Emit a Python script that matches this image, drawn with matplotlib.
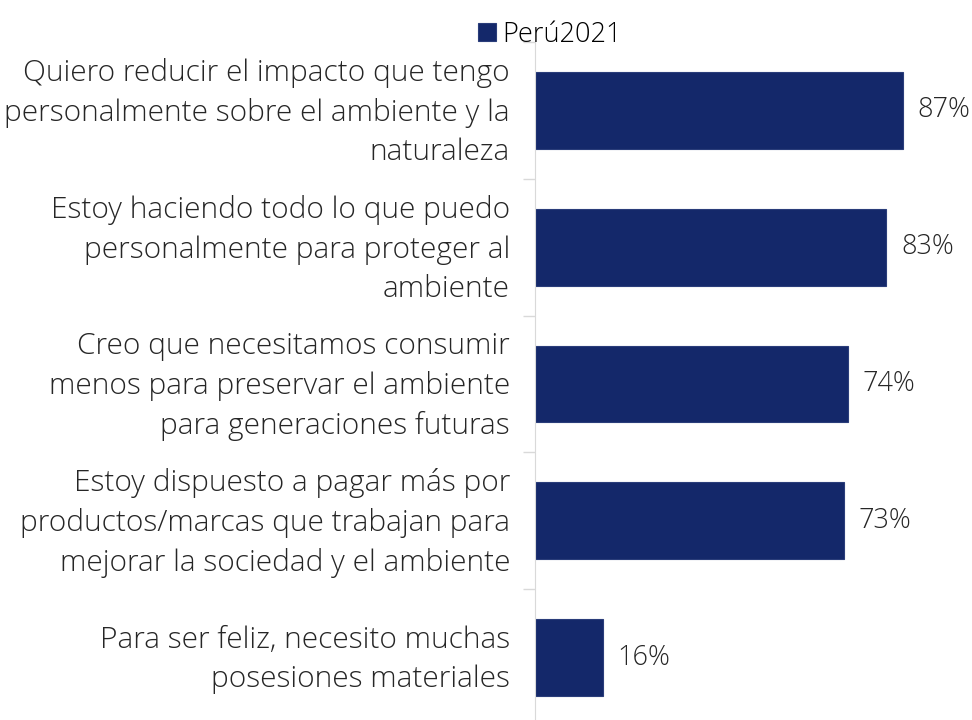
import matplotlib.pyplot as plt
from matplotlib.transforms import ScaledTranslation

plt.rcParams['font.family'] = ['Open Sans', 'DejaVu Sans']

categories = [
    "Quiero reducir el impacto que tengo\npersonalmente sobre el ambiente y la\nnaturaleza",
    "Estoy haciendo todo lo que puedo\npersonalmente para proteger al\nambiente",
    "Creo que necesitamos consumir\nmenos para preservar el ambiente\npara generaciones futuras",
    "Estoy dispuesto a pagar más por\nproductos/marcas que trabajan para\nmejorar la sociedad y el ambiente",
    "Para ser feliz, necesito muchas\nposesiones materiales",
]
values = [87, 83, 74, 73, 16]
series_name = "Perú2021"

bar_color = '#14286a'
text_color = '#262626'

W, H = 972, 720
fig = plt.figure(figsize=(W / 100, H / 100), dpi=100)
ax = fig.add_axes([535 / W, -6 / H, (W - 535) / W, (720 - 42 + 6) / H])

ypos = list(range(len(values)))
bars = ax.barh(ypos, values, height=0.56, color=bar_color, edgecolor='#2a3d7a',
               linewidth=0.8, label=series_name)
ax.set_ylim(len(values) - 0.5, -0.5)
ax.set_xlim(0, 103.3)

for y, v in zip(ypos, values):
    ax.text(v + 3.5, y, f"{v}%", va='center', ha='left', fontsize=19.5,
            fontweight='light', color=text_color)

ax.set_yticks([i - 0.5 for i in range(len(values) + 1)], minor=False)
ax.set_yticklabels([])
ax.tick_params(axis='y', length=9, color='#d9d9d9', width=1)
ax.set_yticks(ypos, minor=True)
labels = ax.set_yticklabels(categories, minor=True, fontsize=21.5, fontweight='light',
                            color=text_color, ha='right', linespacing=1.43)
ax.tick_params(axis='y', which='minor', length=0, pad=18)
shift = ScaledTranslation(0, 6 / 100, fig.dpi_scale_trans)
for lab in labels:
    lab.set_transform(lab.get_transform() + shift)
ax.set_xticks([])
for s in ['top', 'right', 'bottom']:
    ax.spines[s].set_visible(False)
ax.spines['left'].set_color('#d9d9d9')

fig.legend(handles=[bars], labels=[series_name], loc='upper center',
           bbox_to_anchor=(550 / W, 1.005), frameon=False,
           handlelength=0.65, handleheight=0.65, handletextpad=0.25,
           prop={'weight': 'light', 'size': 19.5})

fig.savefig('out.png', dpi=100)
